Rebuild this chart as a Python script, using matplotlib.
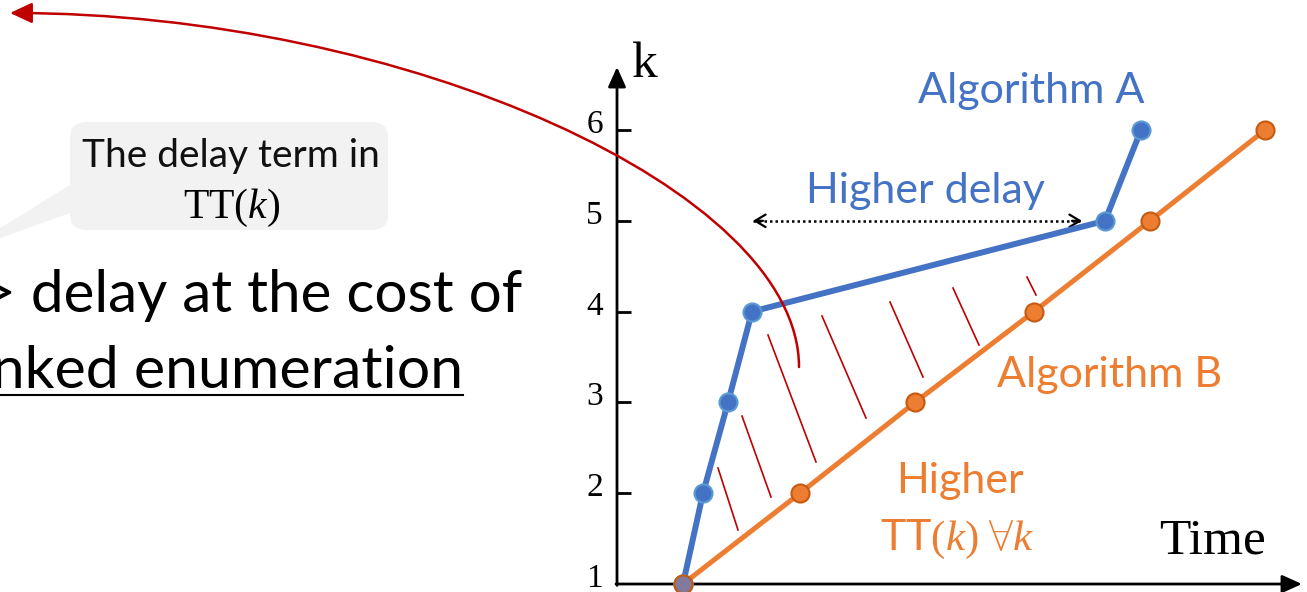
import numpy as np
import matplotlib
matplotlib.use("Agg")
import matplotlib.pyplot as plt
from matplotlib.path import Path
from matplotlib.patches import FancyArrowPatch, FancyBboxPatch

plt.rcParams['font.family'] = ['Lato', 'DejaVu Sans']
plt.rcParams['mathtext.fontset'] = 'custom'
plt.rcParams['mathtext.rm'] = 'Liberation Serif'
plt.rcParams['mathtext.it'] = 'Liberation Serif:italic'
plt.rcParams['mathtext.bf'] = 'Liberation Serif:bold'

# data
k_vals = [1, 2, 3, 4, 5, 6]
time_a = [0.66, 0.86, 1.11, 1.35, 4.88, 5.24]
time_b = [0.66, 1.83, 2.98, 4.17, 5.33, 6.48]

# red hatch strokes between the two curves
hatch_t_top = [1.01, 1.25, 1.51, 2.05, 2.73, 3.36, 4.10]
hatch_k_top = [2.278, 2.850, 3.742, 3.952, 4.106, 4.260, 4.381]
hatch_t_bot = [1.21, 1.54, 1.99, 2.49, 3.06, 3.62, 4.19]
hatch_k_bot = [1.595, 1.958, 2.344, 2.828, 3.280, 3.632, 4.183]

delay_span = [1.36, 4.65]   # time range of "Higher delay" arrow, at k=5

BLUE = '#4472C4'
BLUE_EDGE = '#5B9BD5'
ORANGE = '#ED7D31'
ORANGE_EDGE = '#C55A11'
RED = '#C00000'

fig = plt.figure(figsize=(13.07, 5.92), dpi=100)
ax = fig.add_axes([0, 0, 1, 1])
ax.set_xlim(-6.17, 6.90)
ax.set_ylim(0.912, 7.432)
ax.axis('off')

# axes with arrows
ax.annotate('', xy=(0, 6.694), xytext=(0, 0.985),
            arrowprops=dict(arrowstyle='-|>,head_length=0.6,head_width=0.27',
                            lw=2, color='black', shrinkA=0, shrinkB=0,
                            mutation_scale=20))
ax.annotate('', xy=(6.85, 1.0), xytext=(-0.01, 1.0),
            arrowprops=dict(arrowstyle='-|>,head_length=0.6,head_width=0.27',
                            lw=2, color='black', shrinkA=0, shrinkB=0,
                            mutation_scale=20))
for k in k_vals[1:]:
    ax.plot([0, 0.14], [k, k], color='black', lw=2, solid_capstyle='butt')
for k in k_vals:
    ax.text(-0.14, k - 0.033, str(k), ha='right', va='baseline',
            family='Liberation Serif', fontsize=24)
ax.text(0.28, 6.584, 'k', ha='center', va='baseline',
        family='Liberation Serif', fontsize=37)
ax.text(5.96, 1.341, 'Time', ha='center', va='baseline',
        family='Liberation Serif', fontsize=37)

# hatch strokes
for t0, k0, t1, k1 in zip(hatch_t_top, hatch_k_top, hatch_t_bot, hatch_k_bot):
    ax.plot([t0, t1], [k0, k1], color=RED, lw=1.2)

# series
ax.plot(time_b, k_vals, color=ORANGE, lw=3.6, marker='o', ms=13,
        mfc=ORANGE, mec=ORANGE_EDGE, mew=1.5, zorder=3)
ax.plot(time_a, k_vals, color=BLUE, lw=4.3, marker='o', ms=13,
        mfc=BLUE, mec=BLUE_EDGE, mew=1.5, zorder=4)
ax.plot(time_a[0], k_vals[0], marker='o', ms=13, mfc='#827A9C',
        mec=ORANGE_EDGE, mew=1.5, zorder=5)

# higher delay dotted arrow
ax.plot(delay_span, [5, 5], color='black', lw=1.8, ls=(0, (1, 1.2)))
for a, b in [(delay_span[0] + 0.1, delay_span[0]), (delay_span[1] - 0.1, delay_span[1])]:
    ax.annotate('', xy=(b, 5), xytext=(a, 5),
                arrowprops=dict(arrowstyle='->,head_length=0.5,head_width=0.3',
                                lw=1.6, color='black', shrinkA=0, shrinkB=0,
                                mutation_scale=15))

# labels
ax.text(4.14, 6.297, 'Algorithm A', color=BLUE, fontsize=31, ha='center', va='baseline')
ax.text(3.08, 5.196, 'Higher delay', color=BLUE, fontsize=31, ha='center', va='baseline')
ax.text(4.93, 3.170, 'Algorithm B', color=ORANGE, fontsize=31, ha='center', va='baseline')
ax.text(3.43, 2.002, 'Higher', color=ORANGE, fontsize=31, ha='center', va='baseline')
ax.text(3.40, 1.374, r'TT$(k)\ \forall k$', color=ORANGE, fontsize=31, ha='center', va='baseline')

# red curved arrow
p0 = (1.82, 3.39)
p3 = (-6.07, 7.289)
p1 = (p0[0], p0[1] + 0.5 * (p3[1] - p0[1]))
p2 = (p3[0] + 0.5 * (p0[0] - p3[0]), p3[1])
curve = Path([p0, p1, p2, p3], [Path.MOVETO, Path.CURVE4, Path.CURVE4, Path.CURVE4])
ax.add_patch(FancyArrowPatch(path=curve, arrowstyle='-|>,head_length=0.75,head_width=0.35',
                             mutation_scale=18, color=RED, lw=1.8,
                             transform=ax.transData, zorder=6))

# callout box
ax.fill([-5.47, -5.47, -6.56], [5.394, 5.086, 4.656], color='#F2F2F2', lw=0)
ax.add_patch(FancyBboxPatch((-5.47, 4.899), 3.18, 1.189,
                            boxstyle='round,pad=0,rounding_size=0.17',
                            fc='#F2F2F2', ec='none'))
ax.text(-3.86, 5.592, 'The delay term in', fontsize=28, ha='center', va='baseline',
        color='#111111')
ax.text(-3.85, 5.031, r'$\mathrm{TT}(k)$', fontsize=30, ha='center', va='baseline')

# big text on the left (cut off by the frame)
ax.text(-0.95, 3.996, '> delay at the cost of', fontsize=42, ha='right', va='baseline')
ax.text(-1.54, 3.159, 'ranked enumeration', fontsize=42.5, ha='right', va='baseline')
ax.plot([-6.17, -1.54], [3.081, 3.081], color='black', lw=1.5)

fig.savefig('out.png', dpi=100)
